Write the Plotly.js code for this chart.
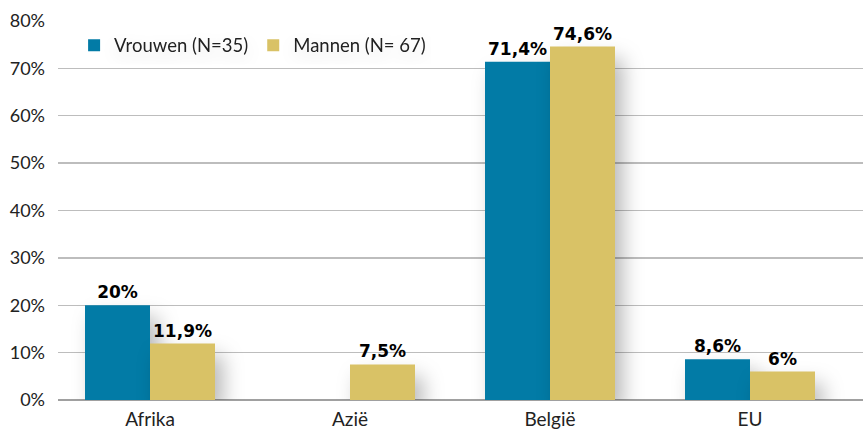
<!DOCTYPE html>
<html>
<head>
<meta charset="utf-8">
<script src="https://cdn.plot.ly/plotly-3.0.1.min.js"></script>
<style>
  html, body { margin: 0; padding: 0; background: #fff; }
  #chart { width: 863px; height: 433px; }
  .trace.bars .point path { filter: drop-shadow(8px 12px 10px rgba(0,0,0,0.28)); }
  .legend .legendtext { filter: drop-shadow(0px 6px 8px rgba(0,0,0,0.12)); }
</style>
</head>
<body>
<div id="chart"></div>
<script>
const categories = ['Afrika', 'Azië', 'België', 'EU'];
const vrouwen = [20, null, 71.4, 8.6];
const mannen = [11.9, 7.5, 74.6, 6];
const seriesNames = ['Vrouwen (N=35)', 'Mannen (N= 67)'];
const yTickVals = [0, 10, 20, 30, 40, 50, 60, 70, 80];
const yTickText = ['0%', '10%', '20%', '30%', '40%', '50%', '60%', '70%', '80%'];

const fmt = v => (v === null ? '' : String(v).replace('.', ',') + '%');
const font = "Lato, 'Open Sans', sans-serif";
const boldFont = "'DejaVu Sans', sans-serif";

const common = {
  type: 'bar',
  x: categories,
  textposition: 'outside',
  cliponaxis: false,
  textfont: { family: boldFont, size: 17, color: '#000', weight: 'bold' },
  hoverinfo: 'skip'
};

const data = [
  Object.assign({}, common, {
    name: seriesNames[0], y: vrouwen, text: vrouwen.map(fmt),
    marker: { color: '#027BA6' }
  }),
  Object.assign({}, common, {
    name: seriesNames[1], y: mannen, text: mannen.map(fmt),
    marker: { color: '#D9C266' }
  })
];

const layout = {
  width: 863, height: 433,
  margin: { l: 58, r: 0, t: 21, b: 33 },
  paper_bgcolor: '#fff', plot_bgcolor: '#fff',
  font: { family: font, size: 18, color: '#222' },
  barmode: 'group',
  bargap: 0.35,
  bargroupgap: 0,
  showlegend: true,
  legend: {
    orientation: 'h', x: 0.02, y: 0.985, xanchor: 'left', yanchor: 'top',
    font: { family: font, size: 18.5, color: '#222' },
    bgcolor: 'rgba(0,0,0,0)', itemwidth: 30, traceorder: 'normal'
  },
  xaxis: {
    range: [-0.46, 3.565], showgrid: false, zeroline: false,
    showline: false, ticks: '', ticklabelstandoff: 6,
    tickfont: { family: font, size: 19, color: '#222' },
    fixedrange: true
  },
  yaxis: {
    range: [0, 80], tickvals: yTickVals, ticktext: yTickText,
    showgrid: true, gridcolor: '#BDBDBD', gridwidth: 1.3,
    zeroline: true, zerolinecolor: '#A0A0A0', zerolinewidth: 1.5,
    showline: false, ticks: '', ticklabelstandoff: 12,
    tickfont: { family: font, size: 18, color: '#222' }, fixedrange: true
  }
};

Plotly.newPlot('chart', data, layout, { displayModeBar: false, staticPlot: true });
</script>
</body>
</html>
